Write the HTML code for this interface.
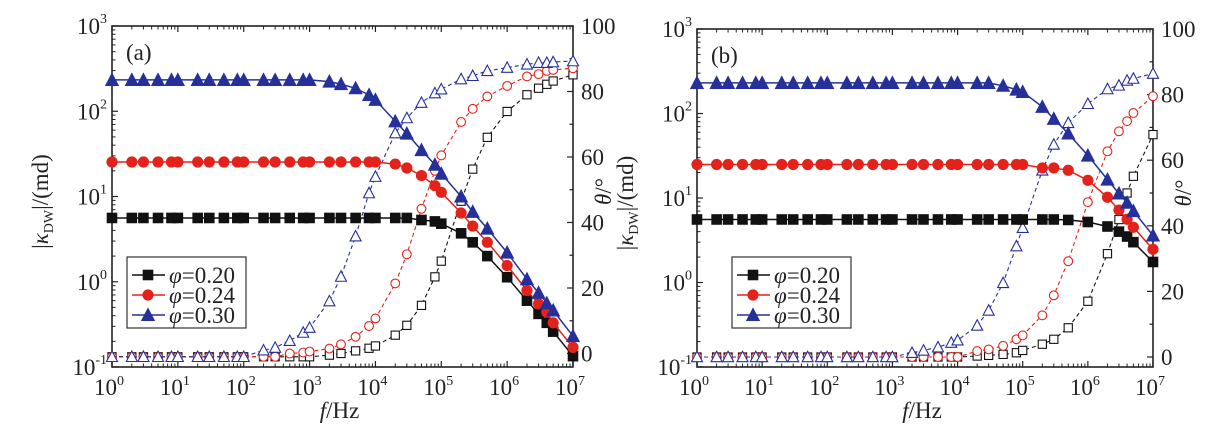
<!DOCTYPE html>
<html><head><meta charset="utf-8"><style>
html,body{margin:0;padding:0;background:#fff;}
svg{display:block;font-family:"Liberation Serif","DejaVu Serif",serif;}
</style></head><body>
<svg id="chart" width="1229" height="443" viewBox="0 0 1229 443" xmlns="http://www.w3.org/2000/svg"></svg>
<script>
const freqs=[1,2,3,5,8,10,20,30,50,80,100,200,300,500,800,1e3,2e3,3e3,5e3,8e3,1e4,2e4,3e4,5e4,8e4,1e5,2e5,3e5,5e5,1e6,2e6,3e6,4e6,5e6,1e7];
function rep(v,n){const a=[];for(let i=0;i<n;i++)a.push(v);return a;}
const seriesNames=["φ=0.20","φ=0.24","φ=0.30"];
const aMag020=rep(5.6,23).concat([5.3,5.1,4.8,3.7,2.9,2.0,1.13,0.6,0.42,0.33,0.26,0.134]);
const aMag024=rep(25.4,21).concat([24,21.6,17.6,13.4,11.2,6.4,4.5,2.9,1.55,0.79,0.55,0.44,0.33,0.17]);
const aMag030=rep(233,16).concat([223,208,186,155,136,76,54.6,35,23.6,18.5,10,6.6,4.2,2.2,1.07,0.74,0.56,0.46,0.23]);
const aTh020=rep(-1,16).concat([-0.5,0,0.8,1.6,2.3,5.6,8.6,14.7,23.4,28.2,46.5,56.3,66,73.9,79,81,82.2,83.2,85.1]);
const aTh024=rep(-1,13).concat([0,0.3,0.6,1.5,2.8,5.1,8.4,10.7,21.4,30.3,44.2,55.8,60.5,70.7,74.7,78.5,81.7,84.6,85.3,86.3,86.6,87.1]);
const aTh030=rep(-1,11).concat([1,1.8,3.9,6.4,7.9,16,23.5,35.8,49,54,67.3,71.9,76.6,79.5,80.7,83.8,84.8,86.3,87.3,88.3,88.8,88.8,89,89.3]);
const bMag020=rep(5.57,28).concat([5.5,5.2,4.6,4.0,3.5,3.0,1.75]);
const bMag024=rep(24.9,26).concat([22.7,22.7,21.3,16.2,10.2,7.2,5.6,4.5,2.47]);
const bMag030=rep(230,23).concat([213,192,180,120,86.5,58,31.8,16.5,11.3,8.8,7.0,3.6]);
const bTh020=rep(0,21).concat([0.3,0.5,0.8,1.3,2,3.9,5.4,8.9,17,31.5,41.9,50,55.1,67.8]);
const bTh024=rep(0,21).concat([1.8,2.3,3.4,5.4,6.6,12.7,18.8,29.2,47.2,62.7,68.8,71.9,74.4,79.5]);
const bTh030=rep(0,16).concat([1.3,2,3,4.4,5.1,9.6,14.2,22.6,33.8,39.4,56.9,64.8,71.4,77.2,81.7,82.8,84.3,84.9,86.4]);
const xTickExps=[0,1,2,3,4,5,6,7];
const yTickExps=[-1,0,1,2,3];
const thetaTicks=[0,20,40,60,80,100];

const NS="http://www.w3.org/2000/svg";
const svg=document.getElementById('chart');
const colors=["#111111","#e3231b","#26309a"];
function el(tag,attrs,parent,text){const e=document.createElementNS(NS,tag);for(const k in attrs)e.setAttribute(k,attrs[k]);if(text!==undefined)e.textContent=text;(parent||svg).appendChild(e);return e;}

function marker(g,shape,x,y,col,filled,big){
  const s=big?4.8:4.1;let m;
  const fill=filled?col:"#fff";const sw=filled?1:1.1;
  if(shape==0)m=el('rect',{x:x-s,y:y-s,width:2*s,height:2*s,fill:fill,stroke:col,'stroke-width':sw},g);
  else if(shape==1)m=el('circle',{cx:x,cy:y,r:s+0.3,fill:fill,stroke:col,'stroke-width':sw},g);
  else{const h=s*1.15;m=el('polygon',{points:`${x},${y-h-1} ${x-h-0.8},${y+h} ${x+h+0.8},${y+h}`,fill:fill,stroke:col,'stroke-width':sw},g);}
  return m;
}

function panel(P){
  const g=el('g',{},svg);
  
  
  const X=v=>P.x0+(Math.log10(v))/7*(P.x1-P.x0);
  const Y=v=>P.y1-(Math.log10(v)+1)/4*(P.y1-P.y0);
  const T=v=>P.t0-v/100*(P.t0-P.t100);
  const fr=el('rect',{x:P.x0,y:P.y0,width:P.x1-P.x0,height:P.y1-P.y0,fill:'none',stroke:'#222','stroke-width':1.6},g);
  
  for(let e=0;e<=7;e++){
    const x=X(Math.pow(10,e));
    el('line',{x1:x,y1:P.y1,x2:x,y2:P.y1-6,stroke:'#222','stroke-width':1.2},g);
    el('line',{x1:x,y1:P.y0,x2:x,y2:P.y0+6,stroke:'#222','stroke-width':1.2},g);
    if(e<7)for(let k=2;k<10;k++){const xm=X(k*Math.pow(10,e));
      el('line',{x1:xm,y1:P.y1,x2:xm,y2:P.y1-3.5,stroke:'#222','stroke-width':1},g);
      el('line',{x1:xm,y1:P.y0,x2:xm,y2:P.y0+3.5,stroke:'#222','stroke-width':1},g);}
  }
  xTickExps.forEach(e=>{
    const t=el('text',{x:X(Math.pow(10,e))-3,y:P.y1+28,'font-size':23,'text-anchor':'middle',fill:'#222'},g);
    
    t.innerHTML='10<tspan dy="-10" font-size="14">'+e+'</tspan>';
  });
  for(let e=-1;e<=3;e++){
    const y=Y(Math.pow(10,e));
    el('line',{x1:P.x0,y1:y,x2:P.x0+6,y2:y,stroke:'#222','stroke-width':1.2},g);
    if(e<3)for(let k=2;k<10;k++){const ym=Y(k*Math.pow(10,e));
      el('line',{x1:P.x0,y1:ym,x2:P.x0+3.5,y2:ym,stroke:'#222','stroke-width':1},g);}
  }
  yTickExps.forEach(e=>{
    const t=el('text',{x:P.x0-5,y:Y(Math.pow(10,e))+8,'font-size':23,'text-anchor':'end',fill:'#222'},g);
    
    t.innerHTML='10<tspan dy="-11" font-size="14">'+e+'</tspan>';
  });
  for(let v=0;v<=100;v+=10){const y=T(v);
    el('line',{x1:P.x1,y1:y,x2:P.x1-(v%20==0?6:3.5),y2:y,stroke:'#222','stroke-width':1.2},g);}
  thetaTicks.forEach(v=>{
    const t=el('text',{x:P.x1+8,y:T(v)+8,'font-size':23,fill:'#222'},g,String(v));
    
  });
  let t=el('text',{transform:`translate(${P.x0-64},${(P.y0+P.y1)/2+5}) rotate(-90)`,'font-size':23,'text-anchor':'middle',fill:'#222'},g);
  
  t.innerHTML='|<tspan font-style="italic">κ</tspan><tspan font-size="14" dy="5">DW</tspan><tspan dy="-5">|/(md)</tspan>';
  t=el('text',{transform:`translate(${P.x1+38},${(P.y0+P.y1)/2-5}) rotate(-90)`,'font-size':23,'text-anchor':'middle',fill:'#222'},g);
  
  t.innerHTML='<tspan font-style="italic">θ</tspan>/°';
  t=el('text',{x:(P.x0+P.x1)/2-3,y:P.y1+51,'font-size':23,'text-anchor':'middle',fill:'#222'},g);
  
  t.innerHTML='<tspan font-style="italic">f</tspan>/Hz';
  t=el('text',{x:P.x0+14,y:P.y0+34,'font-size':23,fill:'#222'},g,P.label);
  
  P.th.forEach((arr,si)=>{
    const pts=freqs.map((f,i)=>X(f).toFixed(1)+','+T(arr[i]).toFixed(1)).join(' ');
    const l=el('polyline',{points:pts,fill:'none',stroke:colors[si],'stroke-width':1.1,'stroke-dasharray':'4,3'},g);
    
    freqs.forEach((f,i)=>{const m=marker(g,si,X(f),T(arr[i]),colors[si],false,false);
      });
  });
  P.mag.forEach((arr,si)=>{
    const pts=freqs.map((f,i)=>X(f).toFixed(1)+','+Y(arr[i]).toFixed(1)).join(' ');
    const l=el('polyline',{points:pts,fill:'none',stroke:colors[si],'stroke-width':1.5},g);
    
    freqs.forEach((f,i)=>{const m=marker(g,si,X(f),Y(arr[i]),colors[si],true,true);
      });
  });
  const lg=el('g',{},g);
  
  el('rect',{x:P.lx,y:257,width:119,height:71,fill:'#fff',stroke:'#333','stroke-width':1.2},lg);
  seriesNames.forEach((n,i)=>{
    const yy=275+i*20;
    const e=el('g',{},lg);
    
    el('line',{x1:P.lx+5,y1:yy,x2:P.lx+38,y2:yy,stroke:colors[i],'stroke-width':1.5},e);
    marker(e,i,P.lx+21,yy,colors[i],true,true);
    const tx=el('text',{x:P.lx+42,y:yy+8,'font-size':23,fill:'#222'},e);
    tx.innerHTML='<tspan font-style="italic">φ</tspan>='+n.split('=')[1];
  });
}
panel({id:'panel-a',label:'(a)',x0:112,x1:573,y0:26,y1:367,t0:353.5,t100:26,lx:127,mag:[aMag020,aMag024,aMag030],th:[aTh020,aTh024,aTh030]});
panel({id:'panel-b',label:'(b)',x0:697,x1:1153,y0:29,y1:367,t0:357,t100:29,lx:732,mag:[bMag020,bMag024,bMag030],th:[bTh020,bTh024,bTh030]});
</script>
</body></html>
